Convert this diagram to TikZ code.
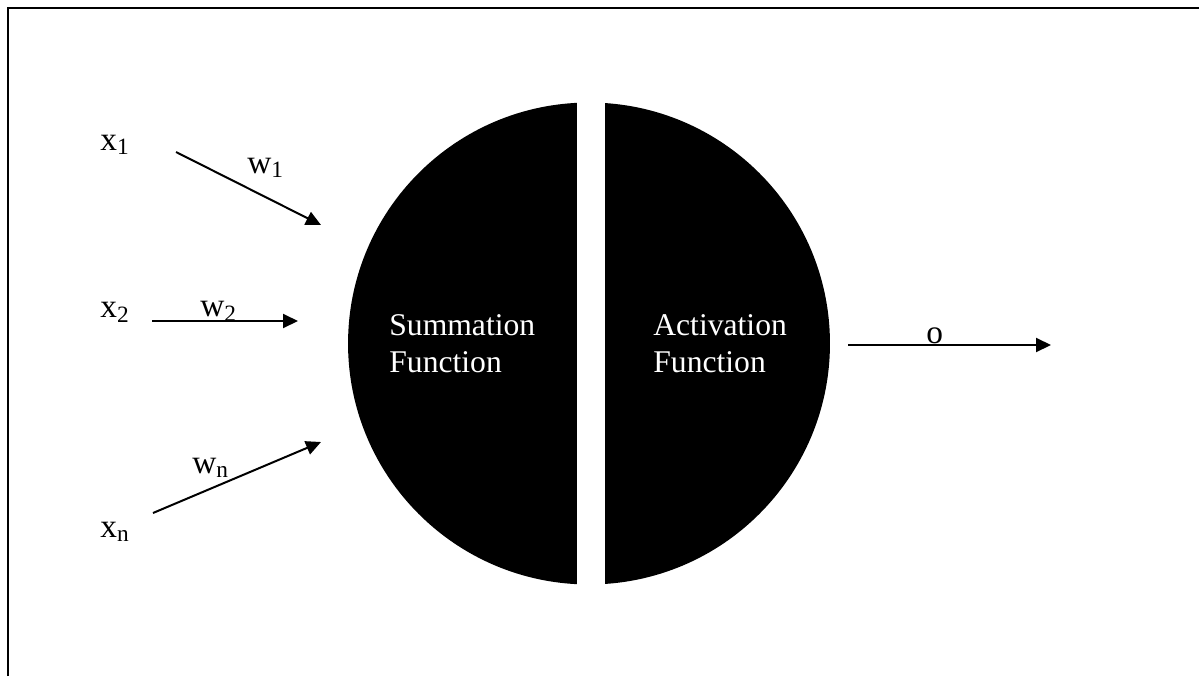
\documentclass[tikz,border=0pt]{standalone}
\usepackage{fontspec}
\setmainfont{Liberation Serif}
\usetikzlibrary{positioning}
\usetikzlibrary{arrows.meta}
\tikzset{
    neuron/.style = {circle, fill=black, draw=none, inner sep=0pt, outer sep=0pt, minimum size=9.64cm},
    splitbar/.style = {rectangle, fill=white, draw=none, inner sep=0pt, outer sep=0pt, minimum width=0.56cm, minimum height=10cm},
    funclabel/.style = {align=left, text=white, inner sep=0pt, anchor=west, font=\fontsize{18}{21}\selectfont},
    varlabel/.style = {inner sep=0pt, anchor=base west, font=\fontsize{19}{22}\selectfont},
    edgew/.style = {-{Triangle[length=0.3cm,width=0.28cm]}, line width=0.04cm, black},
    framel/.style = {line width=0.05cm, black}, % open frame
}
\begin{document}
\begin{tikzpicture}[x=0.02cm,y=-0.02cm]
\useasboundingbox (0,0) rectangle (1199,676);
\draw[framel] (8,676) -- (8,8) -- (1199,8);

\node[neuron] at (589,343.5) (cell) {};
\node[splitbar] at (591,343.5) (gap) {};
\node[funclabel] at (389,343.5) (sum) {Summation\\Function};
\node[funclabel] at (653,343.5) (act) {Activation\\Function};

\node[varlabel] at (100,150) (x1) {x\textsubscript{1}};
\node[varlabel] at (100,317) (x2) {x\textsubscript{2}};
\node[varlabel] at (100,537) (xn) {x\textsubscript{n}};
\node[varlabel] at (247,173) (w1) {w\textsubscript{1}};
\node[varlabel] at (200,316) (w2) {w\textsubscript{2}};
\node[varlabel] at (192,473) (wn) {w\textsubscript{n}};
\node[varlabel] at (926,343) (out) {o};

\coordinate (s1) at (176,152);
\coordinate (e1) at (321,225);
\coordinate (s2) at (152,321);
\coordinate (e2) at (298,321);
\coordinate (sn) at (153,513);
\coordinate (en) at (321,442);
\coordinate (so) at (848,345);
\coordinate (eo) at (1051,345);
\draw[edgew] (s1) -- (e1);
\draw[edgew] (s2) -- (e2);
\draw[edgew] (sn) -- (en);
\draw[edgew] (so) -- (eo);

\end{tikzpicture}
\end{document}
